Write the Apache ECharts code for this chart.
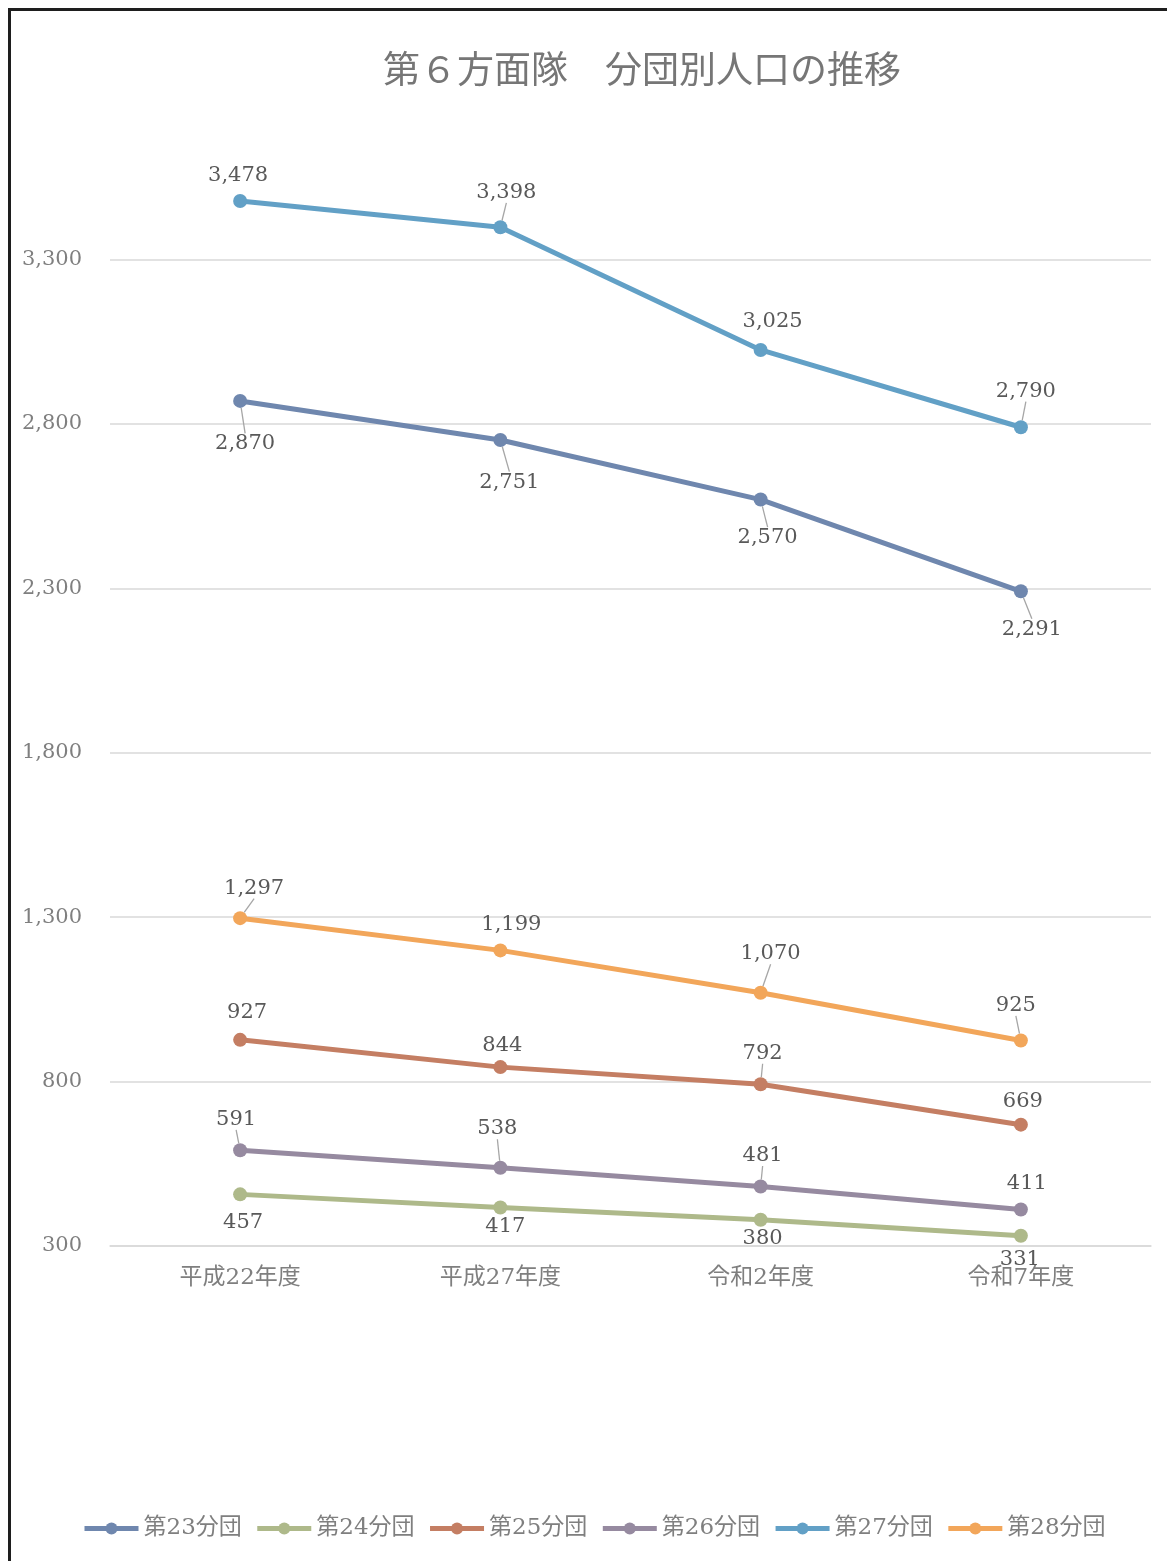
<!DOCTYPE html>
<html>
<head>
<meta charset="utf-8">
<script src="https://cdn.jsdelivr.net/npm/echarts@6/dist/echarts.min.js"></script>
<style>
  html, body { margin: 0; padding: 0; background: #fff; overflow: hidden; }
  #chart { width: 1167px; height: 1561px; }
</style>
</head>
<body>
<div id="chart"></div>
<script>
// 年度区分
const years = ['平成22年度', '平成27年度', '令和2年度', '令和7年度'];

// 分団別人口
const pop23 = [2870, 2751, 2570, 2291];
const pop24 = [457, 417, 380, 331];
const pop25 = [927, 844, 792, 669];
const pop26 = [591, 538, 481, 411];
const pop27 = [3478, 3398, 3025, 2790];
const pop28 = [1297, 1199, 1070, 925];

// 縦軸の目盛
const yTicks = [300, 800, 1300, 1800, 2300, 2800, 3300];

const NUM_FONT = '"DejaVu Serif", "Noto Sans CJK JP", serif';

// ラベル位置（点からのずれ）と引き出し線の有無
const labelPlace = {
  '第23分団': [[5, 43, 1], [9, 42, 1], [7, 38, 1], [11, 38, 1]],
  '第24分団': [[3, 28, 0], [5, 19, 0], [2, 19, 0], [-1, 24, 0]],
  '第25分団': [[7, -27, 0], [2, -22, 0], [2, -31, 1], [2, -23, 0]],
  '第26分団': [[-4, -31, 1], [-3, -39, 1], [2, -31, 1], [6, -26, 0]],
  '第27分団': [[-2, -25, 0], [6, -35, 1], [12, -28, 0], [5, -36, 1]],
  '第28分団': [[14, -30, 1], [11, -26, 0], [10, -39, 1], [-5, -35, 1]]
};

const seriesDefs = [
  { name: '第23分団', data: pop23, color: '#6F87AE' },
  { name: '第24分団', data: pop24, color: '#AEB98A' },
  { name: '第25分団', data: pop25, color: '#C47E63' },
  { name: '第26分団', data: pop26, color: '#968AA0' },
  { name: '第27分団', data: pop27, color: '#62A0C6' },
  { name: '第28分団', data: pop28, color: '#F2A65A' }
];

const series = seriesDefs.map(s => ({
  name: s.name,
  type: 'line',
  symbol: 'circle',
  symbolSize: 14,
  lineStyle: { width: 5, color: s.color },
  itemStyle: { color: s.color },
  emphasis: { disabled: true },
  data: s.data.map((v, i) => ({
    value: v,
    labelLine: { show: !!labelPlace[s.name][i][2] }
  })),
  label: {
    show: true,
    position: 'inside',
    fontFamily: NUM_FONT,
    fontSize: 21,
    color: '#595959',
    formatter: p => p.value.toLocaleString('en-US')
  },
  labelLayout: params => {
    const p = labelPlace[s.name][params.dataIndex];
    return { dx: p[0], dy: p[1] };
  },
  labelLine: {
    show: false,
    lineStyle: { color: '#A6A6A6', width: 1.3 }
  }
}));

const chart = echarts.init(document.getElementById('chart'), null, { renderer: 'canvas' });

chart.setOption({
  backgroundColor: '#ffffff',
  animation: false,
  title: {
    text: '第６方面隊　分団別人口の推移',
    left: 637,
    textAlign: 'center',
    top: 45,
    textStyle: {
      fontFamily: '"Noto Sans CJK JP", sans-serif',
      fontWeight: 'normal',
      fontSize: 37,
      color: '#767676'
    }
  },
  legend: {
    bottom: 16,
    left: 77,
    itemWidth: 54,
    itemHeight: 15,
    itemGap: 13,
    lineStyle: { width: 5 },
    textStyle: {
      fontFamily: NUM_FONT,
      fontSize: 23,
      color: '#7F7F7F'
    },
    data: seriesDefs.map(s => s.name)
  },
  grid: {
    left: 110,
    right: 16,
    top: 128,
    bottom: 315,
    containLabel: false
  },
  xAxis: {
    type: 'category',
    data: years,
    boundaryGap: true,
    axisLine: { show: true, lineStyle: { color: '#D9D9D9', width: 1.5 } },
    axisTick: { show: false },
    axisLabel: {
      margin: 21,
      fontFamily: NUM_FONT,
      fontSize: 23,
      color: '#7F7F7F'
    }
  },
  yAxis: {
    type: 'value',
    min: 300,
    max: 3700,
    axisLine: { show: false },
    axisTick: { show: false, customValues: yTicks },
    axisLabel: {
      customValues: yTicks,
      margin: 28,
      fontFamily: NUM_FONT,
      fontSize: 21,
      color: '#7F7F7F',
      formatter: v => v.toLocaleString('en-US')
    },
    splitLine: { show: true, lineStyle: { color: '#D9D9D9', width: 1.5 } }
  },
  graphic: [{
    type: 'rect',
    silent: true,
    shape: { x: 9.5, y: 9.5, width: 1300, height: 1700 },
    style: { fill: null, stroke: '#1E1E1E', lineWidth: 3 },
    z: 100
  }],
  series: series
});
</script>
</body>
</html>
